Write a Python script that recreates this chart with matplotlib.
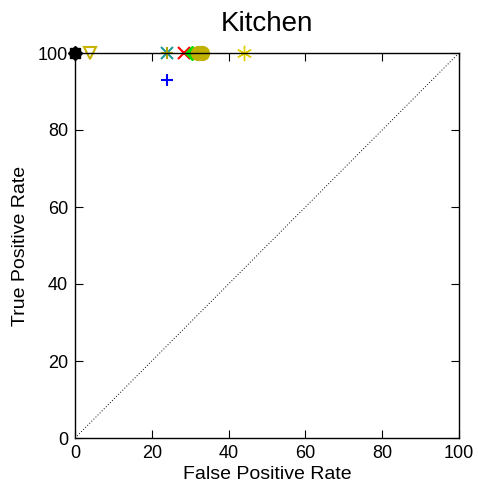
import matplotlib
matplotlib.use('Agg')
import matplotlib.pyplot as plt

plt.rcParams['font.family'] = ['Liberation Sans', 'DejaVu Sans']

# ROC points (false positive rate, true positive rate), one list per method
black_fpr = [0, 0, 0, 0]
black_tpr = [100, 100, 100, 100]
black_markers = ['o', '*', 's', 'D']
tri_fpr, tri_tpr = [4], [100]
plus_fpr, plus_tpr = [24], [93]
xcross_fpr, xcross_tpr = [24], [100]
red_fpr, red_tpr = [28.5], [100]
green_fpr, green_tpr = [30.5], [100]
olive_fpr, olive_tpr = [32, 33], [100, 100]
star_fpr, star_tpr = [44], [100]
ticks = [0, 20, 40, 60, 80, 100]

fig = plt.figure(figsize=(4.78, 4.86), dpi=100)
ax = fig.add_axes([75 / 478, 1 - 438 / 486, 384 / 478, 385 / 486])

ax.plot([0, 100], [0, 100], color='black', linestyle=(0, (1, 2)), linewidth=0.7)

for x, y, m in zip(black_fpr, black_tpr, black_markers):
    ax.plot(x, y, marker=m, color='black', markersize=7, linestyle='none', clip_on=False)
ax.plot(tri_fpr, tri_tpr, marker='v', markerfacecolor='none', markeredgecolor='#c8b400',
        markeredgewidth=1.5, markersize=8, linestyle='none', clip_on=False)
ax.plot(plus_fpr, plus_tpr, marker='+', color='blue', markersize=9, markeredgewidth=1.5,
        linestyle='none', clip_on=False)
ax.plot(xcross_fpr, xcross_tpr, marker='x', color='#1f9a9a', markersize=9, markeredgewidth=1.5,
        linestyle='none', clip_on=False)
ax.plot(xcross_fpr, xcross_tpr, marker='+', color='#b0a800', markersize=9, markeredgewidth=1.5,
        linestyle='none', clip_on=False)
ax.plot(red_fpr, red_tpr, marker='x', color='red', markersize=9, markeredgewidth=1.5,
        linestyle='none', clip_on=False)
ax.plot(green_fpr, green_tpr, marker='D', color='#00e000', markersize=7,
        linestyle='none', clip_on=False)
ax.plot(olive_fpr, olive_tpr, marker='o', color='#c0b000', markersize=10,
        linestyle='none', clip_on=False)
ax.plot(star_fpr, star_tpr, marker=(6, 2, 0), color='#e0d000', markersize=11, markeredgewidth=1,
        linestyle='none', clip_on=False)

ax.set_xlim(0, 100)
ax.set_ylim(0, 100)
ax.set_xticks(ticks)
ax.set_yticks(ticks)
ax.tick_params(direction='in', top=True, right=True, labelsize=13, length=6, pad=5)
ax.set_xlabel('False Positive Rate', fontsize=14, labelpad=3)
ax.set_ylabel('True Positive Rate', fontsize=14, labelpad=6)
ax.set_title('Kitchen', fontsize=20, pad=16)
for s in ax.spines.values():
    s.set_linewidth(1)

fig.savefig('out.png', dpi=100)
